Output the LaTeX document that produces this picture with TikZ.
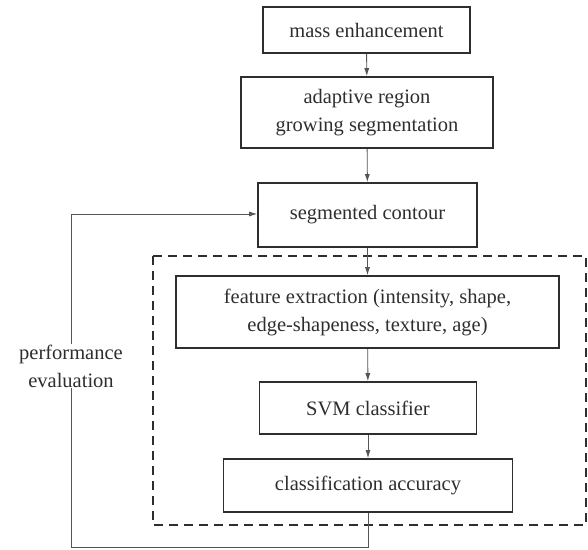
\documentclass[tikz,border=0pt]{standalone}
\usepackage{fontspec}
\setmainfont{Liberation Serif}
\usetikzlibrary{arrows.meta}
\definecolor{ink}{HTML}{2E2E2E}
\definecolor{wire}{HTML}{555555}
\begin{document}
\begin{tikzpicture}[x=1pt,y=-1pt,
  box/.style={draw=ink,line width=1.6pt,inner sep=0pt,align=center,text=ink,
    font=\fontsize{20.5}{28}\selectfont},
  conn/.style={draw=wire,line width=0.9pt,-{Latex[length=8pt,width=5pt]}},
  plain/.style={draw=wire,line width=0.9pt},
  lab/.style={fill=white,align=center,text=ink,inner sep=1pt,
    font=\fontsize{20.5}{28}\selectfont}]
\useasboundingbox (0,0) rectangle (588,549);
\node[box,minimum width=207pt,minimum height=46pt] (b1) at (366.5,30) {mass enhancement};
\node[box,minimum width=252pt,minimum height=71pt] (b2) at (367,112.5) {adaptive region\\growing segmentation};
\node[box,minimum width=219pt,minimum height=64pt] (b3) at (367.5,215) {segmented contour};
\node[box,minimum width=383pt,minimum height=72pt] (b4) at (367.5,312) {feature extraction (intensity, shape,\\edge-shapeness, texture, age)};
\node[box,minimum width=217pt,minimum height=52pt] (b5) at (368,408) {SVM classifier};
\node[box,minimum width=289pt,minimum height=53pt] (b6) at (368,485.5) {classification accuracy};
\draw[draw=ink,line width=1.6pt,dash pattern=on 9pt off 6pt] (153,256) rectangle (586,525);
\draw[conn] (b1) -- (b2);
\draw[conn] (b2) -- (b3);
\draw[conn] (b3) -- (b4);
\draw[conn] (b4) -- (b5);
\draw[conn] (b5) -- (b6);
\coordinate (c1) at (b6.south |- 0,547);
\coordinate (c2) at (71,547);
\coordinate (c3) at (71,214);
\draw[plain] (b6.south) -- (c1) -- (c2) -- (c3);
\draw[conn] (c3) -- (b3.west |- c3);
\node[lab] (pe) at (71,366) {performance\\evaluation};
\end{tikzpicture}
\end{document}
